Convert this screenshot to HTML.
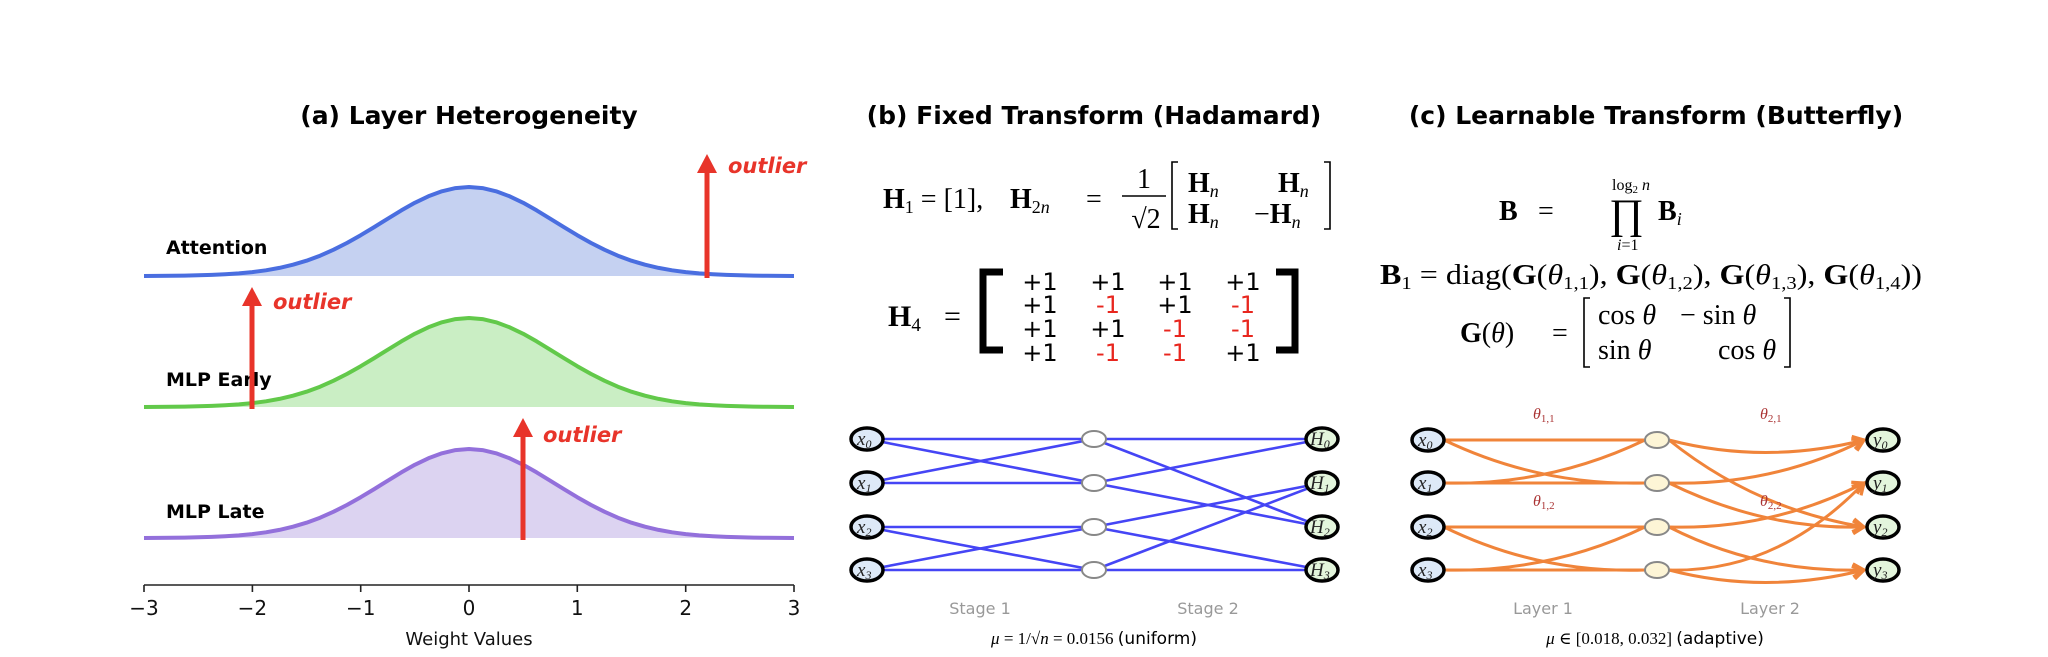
<!DOCTYPE html>
<html><head><meta charset="utf-8"><style>
html,body{margin:0;padding:0;background:#fff}
svg{display:block}
.t{font-family:"DejaVu Sans","Liberation Sans",sans-serif}
.s{font-family:"Liberation Serif","DejaVu Serif",serif}
</style></head><body>
<svg width="2048" height="657" viewBox="0 0 2048 657" xmlns="http://www.w3.org/2000/svg">
<defs>
<path id="g" d="M144,0 L157.5,-0.1 L171.1,-0.2 L184.6,-0.4 L198.2,-0.7 L211.7,-1.1 L225.2,-1.7 L238.8,-2.6 L252.3,-3.9 L265.9,-5.7 L279.4,-8.1 L293,-11.3 L306.5,-15.3 L320.1,-20.3 L333.6,-26.3 L347.1,-33.1 L360.7,-40.8 L374.2,-48.9 L387.8,-57.3 L401.3,-65.6 L414.8,-73.2 L428.4,-79.7 L441.9,-84.7 L455.5,-87.9 L469,-89 L482.5,-87.9 L496.1,-84.7 L509.6,-79.7 L523.2,-73.2 L536.7,-65.6 L550.2,-57.3 L563.8,-48.9 L577.3,-40.8 L590.9,-33.1 L604.4,-26.3 L617.9,-20.3 L631.5,-15.3 L645,-11.3 L658.6,-8.1 L672.1,-5.7 L685.7,-3.9 L699.2,-2.6 L712.8,-1.7 L726.3,-1.1 L739.8,-0.7 L753.4,-0.4 L766.9,-0.2 L780.5,-0.1 L794,0"/>
<marker id="ah" markerWidth="16" markerHeight="16" refX="12" refY="8" orient="auto" markerUnits="userSpaceOnUse">
<path d="M1,1.5 L12,8 L1,14.5" fill="none" stroke="#f0843a" stroke-width="3.2" stroke-linejoin="miter"/>
</marker>
</defs>

<!-- Panel A -->
<text class="t" x="469" y="124" font-size="25" font-weight="bold" text-anchor="middle">(a) Layer Heterogeneity</text>

<g transform="translate(0,276)">
<use href="#g" fill="#c5d1f1" stroke="none"/>
<use href="#g" fill="none" stroke="#4a6ee0" stroke-width="4" stroke-linejoin="round"/>
</g>
<g transform="translate(0,407)">
<use href="#g" fill="#caeec4" stroke="none"/>
<use href="#g" fill="none" stroke="#62c94a" stroke-width="4" stroke-linejoin="round"/>
</g>
<g transform="translate(0,538)">
<use href="#g" fill="#dcd3f1" stroke="none"/>
<use href="#g" fill="none" stroke="#9370db" stroke-width="4" stroke-linejoin="round"/>
</g>

<text class="t" x="166" y="254" font-size="19" font-weight="bold">Attention</text>
<text class="t" x="166" y="386" font-size="19" font-weight="bold">MLP Early</text>
<text class="t" x="166" y="518" font-size="19" font-weight="bold">MLP Late</text>

<g fill="#e8342a">
<rect x="704.5" y="172" width="5" height="106"/><path d="M697,173 L707,154 L717,173 Z"/>
<rect x="249.5" y="305" width="5" height="104"/><path d="M242,306 L252,287 L262,306 Z"/>
<rect x="520.5" y="436" width="5" height="104"/><path d="M513,437 L523,418 L533,437 Z"/>
</g>
<g class="t" font-size="21" font-weight="bold" font-style="italic" fill="#e8342a">
<text x="728" y="173">outlier</text>
<text x="273" y="309">outlier</text>
<text x="543" y="442">outlier</text>
</g>

<g stroke="#222" stroke-width="1.6">
<line x1="144" y1="585" x2="794" y2="585"/>
<line x1="144" y1="585" x2="144" y2="592"/><line x1="252.4" y1="585" x2="252.4" y2="592"/><line x1="360.7" y1="585" x2="360.7" y2="592"/><line x1="469" y1="585" x2="469" y2="592"/><line x1="577.3" y1="585" x2="577.3" y2="592"/><line x1="685.7" y1="585" x2="685.7" y2="592"/><line x1="794" y1="585" x2="794" y2="592"/>
</g>
<g class="t" font-size="20" text-anchor="middle" fill="#111">
<text x="144" y="615">−3</text><text x="252.4" y="615">−2</text><text x="360.7" y="615">−1</text><text x="469" y="615">0</text><text x="577.3" y="615">1</text><text x="685.7" y="615">2</text><text x="794" y="615">3</text>
<text x="469" y="645" font-size="18">Weight Values</text>
</g>

<!-- Panel B -->
<text class="t" x="1094" y="124" font-size="25" font-weight="bold" text-anchor="middle">(b) Fixed Transform (Hadamard)</text>
<g class="s" font-size="28" fill="#000">
<text x="883" y="208"><tspan font-weight="bold">H</tspan><tspan font-size="18" dy="5">1</tspan><tspan dy="-5"> = [1],</tspan></text>
<text x="1010" y="208"><tspan font-weight="bold">H</tspan><tspan font-size="18" dy="5">2<tspan font-style="italic">n</tspan></tspan></text>
<text x="1086" y="208">=</text>
<text x="1144" y="188" text-anchor="middle">1</text>
<line x1="1122" y1="196" x2="1166" y2="196" stroke="#000" stroke-width="1.4"/>
<text x="1146" y="228" text-anchor="middle">√2</text>
<path d="M1178,162 L1172,162 L1172,229 L1178,229 M1324,162 L1330,162 L1330,229 L1324,229" fill="none" stroke="#000" stroke-width="1.6"/>
<text x="1188" y="192"><tspan font-weight="bold">H</tspan><tspan font-size="18" font-style="italic" dy="5">n</tspan></text>
<text x="1278" y="192"><tspan font-weight="bold">H</tspan><tspan font-size="18" font-style="italic" dy="5">n</tspan></text>
<text x="1188" y="223"><tspan font-weight="bold">H</tspan><tspan font-size="18" font-style="italic" dy="5">n</tspan></text>
<text x="1254" y="223">−<tspan font-weight="bold">H</tspan><tspan font-size="18" font-style="italic" dy="5">n</tspan></text>
<text x="888" y="326" font-size="30"><tspan font-weight="bold">H</tspan><tspan font-size="19" dy="5">4</tspan></text>
<text x="944" y="326" font-size="30">=</text>
</g>
<path d="M1003,272 L983,272 L983,350 L1003,350" fill="none" stroke="#000" stroke-width="7"/>
<path d="M1276,272 L1295,272 L1295,350 L1276,350" fill="none" stroke="#000" stroke-width="7"/>
<g class="t" font-size="24" text-anchor="middle">
<text x="1040" y="290">+1</text><text x="1108" y="290">+1</text><text x="1175" y="290">+1</text><text x="1243" y="290">+1</text>
<text x="1040" y="313">+1</text><text x="1108" y="313" fill="#e8261e">-1</text><text x="1175" y="313">+1</text><text x="1243" y="313" fill="#e8261e">-1</text>
<text x="1040" y="337">+1</text><text x="1108" y="337">+1</text><text x="1175" y="337" fill="#e8261e">-1</text><text x="1243" y="337" fill="#e8261e">-1</text>
<text x="1040" y="361">+1</text><text x="1108" y="361" fill="#e8261e">-1</text><text x="1175" y="361" fill="#e8261e">-1</text><text x="1243" y="361">+1</text>
</g>

<g stroke="#4545f5" stroke-width="2.6">
<line x1="867" y1="439" x2="1094" y2="439"/><line x1="867" y1="439" x2="1094" y2="483"/>
<line x1="867" y1="483" x2="1094" y2="439"/><line x1="867" y1="483" x2="1094" y2="483"/>
<line x1="867" y1="527" x2="1094" y2="527"/><line x1="867" y1="527" x2="1094" y2="570"/>
<line x1="867" y1="570" x2="1094" y2="527"/><line x1="867" y1="570" x2="1094" y2="570"/>
<line x1="1094" y1="439" x2="1322" y2="439"/><line x1="1094" y1="439" x2="1322" y2="527"/>
<line x1="1094" y1="483" x2="1322" y2="439"/><line x1="1094" y1="483" x2="1322" y2="527"/>
<line x1="1094" y1="527" x2="1322" y2="483"/><line x1="1094" y1="527" x2="1322" y2="570"/>
<line x1="1094" y1="570" x2="1322" y2="483"/><line x1="1094" y1="570" x2="1322" y2="570"/>
</g>
<g fill="#fff" stroke="#888" stroke-width="2">
<ellipse cx="1094" cy="439" rx="12" ry="8"/><ellipse cx="1094" cy="483" rx="12" ry="8"/><ellipse cx="1094" cy="527" rx="12" ry="8"/><ellipse cx="1094" cy="570" rx="12" ry="8"/>
</g>
<g fill="#dde9f7" stroke="#000" stroke-width="3.5">
<ellipse cx="867" cy="439" rx="16" ry="11"/><ellipse cx="867" cy="483" rx="16" ry="11"/><ellipse cx="867" cy="527" rx="16" ry="11"/><ellipse cx="867" cy="570" rx="16" ry="11"/>
</g>
<g fill="#e3f5dc" stroke="#000" stroke-width="3.5">
<ellipse cx="1322" cy="439" rx="16" ry="11"/><ellipse cx="1322" cy="483" rx="16" ry="11"/><ellipse cx="1322" cy="527" rx="16" ry="11"/><ellipse cx="1322" cy="570" rx="16" ry="11"/>
</g>
<g class="s" font-size="19" font-style="italic" fill="#222">
<text x="857" y="445">x<tspan font-size="12" dy="3">0</tspan></text><text x="857" y="489">x<tspan font-size="12" dy="3">1</tspan></text><text x="857" y="533">x<tspan font-size="12" dy="3">2</tspan></text><text x="857" y="576">x<tspan font-size="12" dy="3">3</tspan></text>
<text x="1310" y="445">H<tspan font-size="12" dy="3">0</tspan></text><text x="1310" y="489">H<tspan font-size="12" dy="3">1</tspan></text><text x="1310" y="533">H<tspan font-size="12" dy="3">2</tspan></text><text x="1310" y="576">H<tspan font-size="12" dy="3">3</tspan></text>
</g>
<g class="t" font-size="16" fill="#999" text-anchor="middle">
<text x="980" y="614">Stage 1</text><text x="1208" y="614">Stage 2</text>
</g>
<text x="1094" y="644" font-size="17" text-anchor="middle"><tspan class="s" font-style="italic">μ</tspan><tspan class="s"> = 1/√</tspan><tspan class="s" font-style="italic">n</tspan><tspan class="s"> = 0.0156 </tspan><tspan class="t">(uniform)</tspan></text>

<!-- Panel C -->
<text class="t" x="1656" y="124" font-size="25" font-weight="bold" text-anchor="middle">(c) Learnable Transform (Butterfly)</text>
<g class="s" font-size="28" fill="#000">
<text x="1499" y="220" font-weight="bold">B</text>
<text x="1538" y="220">=</text>
<text x="1609" y="228" font-size="42">∏</text>
<text x="1612" y="190" font-size="16">log<tspan font-size="11" dy="3">2</tspan><tspan dy="-3" font-style="italic"> n</tspan></text>
<text x="1617" y="250" font-size="16"><tspan font-style="italic">i</tspan>=1</text>
<text x="1658" y="220"><tspan font-weight="bold">B</tspan><tspan font-size="18" font-style="italic" dy="5">i</tspan></text>
<text x="1380" y="284" textLength="542" lengthAdjust="spacingAndGlyphs"><tspan font-weight="bold">B</tspan><tspan font-size="18" dy="5">1</tspan><tspan dy="-5"> = diag(</tspan><tspan font-weight="bold">G</tspan>(<tspan font-style="italic">θ</tspan><tspan font-size="18" dy="5">1,1</tspan><tspan dy="-5">), </tspan><tspan font-weight="bold">G</tspan>(<tspan font-style="italic">θ</tspan><tspan font-size="18" dy="5">1,2</tspan><tspan dy="-5">), </tspan><tspan font-weight="bold">G</tspan>(<tspan font-style="italic">θ</tspan><tspan font-size="18" dy="5">1,3</tspan><tspan dy="-5">), </tspan><tspan font-weight="bold">G</tspan>(<tspan font-style="italic">θ</tspan><tspan font-size="18" dy="5">1,4</tspan><tspan dy="-5">))</tspan></text>
<text x="1460" y="342"><tspan font-weight="bold">G</tspan>(<tspan font-style="italic">θ</tspan>)</text>
<text x="1552" y="342">=</text>
<path d="M1590,298 L1584,298 L1584,367 L1590,367 M1784,298 L1790,298 L1790,367 L1784,367" fill="none" stroke="#000" stroke-width="1.6"/>
<text x="1598" y="324">cos <tspan font-style="italic">θ</tspan></text>
<text x="1680" y="324">− sin <tspan font-style="italic">θ</tspan></text>
<text x="1598" y="359">sin <tspan font-style="italic">θ</tspan></text>
<text x="1718" y="359">cos <tspan font-style="italic">θ</tspan></text>
</g>

<g fill="none" stroke="#f0843a" stroke-width="3">
<line x1="1444" y1="440" x2="1645" y2="440"/><path d="M1444,440 Q1539.3,485.7 1645,483"/>
<path d="M1444,483 Q1549.8,485.7 1645,440"/><line x1="1444" y1="483" x2="1645" y2="483"/>
<line x1="1444" y1="527" x2="1645" y2="527"/><path d="M1444,527 Q1539.3,573.7 1645,570"/>
<path d="M1444,570 Q1549.8,572.7 1645,527"/><line x1="1444" y1="570" x2="1645" y2="570"/>
</g>
<g fill="none" stroke="#f0843a" stroke-width="3" marker-end="url(#ah)">
<path d="M1669,440 Q1765,465 1864,440"/>
<path d="M1669,440 Q1755,509 1864,527"/>
<path d="M1669,483 Q1772,486 1864,440"/>
<path d="M1669,483 Q1765,530 1864,527"/>
<path d="M1669,527 Q1772,530 1864,483"/>
<path d="M1669,527 Q1759,573 1864,570"/>
<path d="M1669,570 Q1777,573 1864,483"/>
<path d="M1669,570 Q1765,595 1864,570"/>
</g>
<g fill="#fdf5d6" stroke="#888" stroke-width="2">
<ellipse cx="1657" cy="440" rx="12" ry="8"/><ellipse cx="1657" cy="483" rx="12" ry="8"/><ellipse cx="1657" cy="527" rx="12" ry="8"/><ellipse cx="1657" cy="570" rx="12" ry="8"/>
</g>
<g fill="#dde9f7" stroke="#000" stroke-width="3.5">
<ellipse cx="1428" cy="440" rx="16" ry="11"/><ellipse cx="1428" cy="483" rx="16" ry="11"/><ellipse cx="1428" cy="527" rx="16" ry="11"/><ellipse cx="1428" cy="570" rx="16" ry="11"/>
</g>
<g fill="#e3f5dc" stroke="#000" stroke-width="3.5">
<ellipse cx="1883" cy="440" rx="16" ry="11"/><ellipse cx="1883" cy="483" rx="16" ry="11"/><ellipse cx="1883" cy="527" rx="16" ry="11"/><ellipse cx="1883" cy="570" rx="16" ry="11"/>
</g>
<g class="s" font-size="19" font-style="italic" fill="#222">
<text x="1418" y="446">x<tspan font-size="12" dy="3">0</tspan></text><text x="1418" y="489">x<tspan font-size="12" dy="3">1</tspan></text><text x="1418" y="533">x<tspan font-size="12" dy="3">2</tspan></text><text x="1418" y="576">x<tspan font-size="12" dy="3">3</tspan></text>
<text x="1873" y="446">y<tspan font-size="12" dy="3">0</tspan></text><text x="1873" y="489">y<tspan font-size="12" dy="3">1</tspan></text><text x="1873" y="533">y<tspan font-size="12" dy="3">2</tspan></text><text x="1873" y="576">y<tspan font-size="12" dy="3">3</tspan></text>
</g>
<g class="s" font-size="16" font-style="italic" fill="#a33">
<text x="1533" y="419">θ<tspan font-size="11" font-style="normal" dy="3">1,1</tspan></text>
<text x="1760" y="419">θ<tspan font-size="11" font-style="normal" dy="3">2,1</tspan></text>
<text x="1533" y="506">θ<tspan font-size="11" font-style="normal" dy="3">1,2</tspan></text>
<text x="1760" y="506">θ<tspan font-size="11" font-style="normal" dy="3">2,2</tspan></text>
</g>
<g class="t" font-size="16" fill="#999" text-anchor="middle">
<text x="1543" y="614">Layer 1</text><text x="1770" y="614">Layer 2</text>
</g>
<text x="1655" y="644" font-size="17" text-anchor="middle"><tspan class="s" font-style="italic">μ</tspan><tspan class="s"> ∈ [0.018, 0.032] </tspan><tspan class="t">(adaptive)</tspan></text>
</svg>
</body></html>
